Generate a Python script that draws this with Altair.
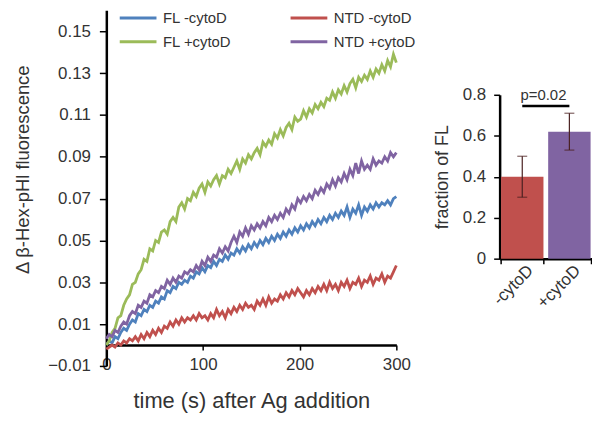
import altair as alt
import pandas as pd

# ---------------- data: line chart ----------------
times = list(range(0, 301, 3))

fl_minus = [0.000, 0.002, 0.001, 0.004, 0.003, 0.006, 0.008, 0.007, 0.010, 0.012,
            0.011, 0.015, 0.014, 0.017, 0.016, 0.019, 0.018, 0.021, 0.020, 0.023,
            0.022, 0.026, 0.025, 0.028, 0.027, 0.030, 0.029, 0.031, 0.030, 0.033,
            0.032, 0.035, 0.034, 0.037, 0.035, 0.038, 0.037, 0.040, 0.038, 0.041,
            0.040, 0.043, 0.041, 0.044, 0.043, 0.046, 0.044, 0.047, 0.045, 0.048,
            0.046, 0.049, 0.047, 0.050, 0.048, 0.051, 0.049, 0.052, 0.050, 0.053,
            0.051, 0.054, 0.052, 0.055, 0.053, 0.056, 0.054, 0.057, 0.055, 0.058,
            0.056, 0.059, 0.057, 0.060, 0.058, 0.061, 0.059, 0.062, 0.060, 0.063,
            0.061, 0.064, 0.062, 0.066, 0.061, 0.065, 0.063, 0.067, 0.062, 0.066,
            0.064, 0.067, 0.065, 0.068, 0.066, 0.068, 0.067, 0.069, 0.067, 0.070,
            0.071]

ntd_minus = [-0.002, -0.001, 0.000, -0.001, 0.001, 0.000, 0.002, 0.001, 0.003, 0.002,
             0.004, 0.002, 0.005, 0.003, 0.006, 0.004, 0.007, 0.005, 0.008, 0.006,
             0.009, 0.008, 0.011, 0.009, 0.012, 0.010, 0.013, 0.011, 0.013, 0.012,
             0.014, 0.012, 0.015, 0.013, 0.014, 0.012, 0.015, 0.013, 0.017, 0.014,
             0.016, 0.013, 0.017, 0.015, 0.018, 0.016, 0.019, 0.017, 0.020, 0.018,
             0.019, 0.017, 0.021, 0.019, 0.022, 0.019, 0.023, 0.020, 0.022, 0.021,
             0.024, 0.022, 0.025, 0.023, 0.026, 0.024, 0.027, 0.025, 0.023, 0.026,
             0.024, 0.027, 0.025, 0.028, 0.026, 0.029, 0.026, 0.030, 0.027, 0.029,
             0.026, 0.030, 0.028, 0.031, 0.027, 0.030, 0.029, 0.032, 0.028, 0.031,
             0.030, 0.033, 0.029, 0.032, 0.031, 0.034, 0.030, 0.033, 0.032, 0.035,
             0.038]

fl_plus = [0.000, 0.002, 0.006, 0.008, 0.013, 0.014, 0.019, 0.022, 0.024, 0.029,
           0.030, 0.034, 0.036, 0.041, 0.040, 0.046, 0.045, 0.050, 0.049, 0.054,
           0.055, 0.053, 0.059, 0.061, 0.059, 0.066, 0.068, 0.065, 0.070, 0.069,
           0.073, 0.071, 0.075, 0.077, 0.073, 0.078, 0.076, 0.079, 0.081, 0.077,
           0.081, 0.080, 0.084, 0.082, 0.085, 0.088, 0.084, 0.089, 0.087, 0.091,
           0.089, 0.092, 0.094, 0.091, 0.097, 0.095, 0.098, 0.096, 0.101, 0.099,
           0.103, 0.100, 0.104, 0.106, 0.103, 0.109, 0.107, 0.108, 0.112, 0.109,
           0.113, 0.111, 0.115, 0.113, 0.116, 0.114, 0.118, 0.117, 0.121, 0.118,
           0.122, 0.120, 0.124, 0.121, 0.125, 0.127, 0.123, 0.128, 0.126, 0.129,
           0.127, 0.131, 0.128, 0.132, 0.130, 0.134, 0.131, 0.136, 0.133, 0.139,
           0.135]

ntd_plus = [0.003, 0.005, 0.004, 0.007, 0.006, 0.009, 0.011, 0.010, 0.014, 0.016,
            0.015, 0.019, 0.018, 0.021, 0.020, 0.024, 0.023, 0.026, 0.025, 0.028,
            0.027, 0.031, 0.029, 0.032, 0.030, 0.033, 0.032, 0.035, 0.034, 0.036,
            0.035, 0.038, 0.036, 0.040, 0.038, 0.042, 0.040, 0.043, 0.042, 0.046,
            0.044, 0.047, 0.045, 0.049, 0.052, 0.049, 0.054, 0.052, 0.056, 0.053,
            0.057, 0.055, 0.058, 0.056, 0.059, 0.057, 0.061, 0.059, 0.062, 0.060,
            0.063, 0.061, 0.065, 0.063, 0.067, 0.065, 0.070, 0.068, 0.071, 0.069,
            0.072, 0.070, 0.074, 0.072, 0.075, 0.073, 0.077, 0.075, 0.079, 0.076,
            0.080, 0.078, 0.082, 0.079, 0.084, 0.081, 0.087, 0.082, 0.088, 0.084,
            0.086, 0.084, 0.089, 0.086, 0.088, 0.087, 0.090, 0.088, 0.092, 0.090,
            0.092]

# legend fills column by column: first column FL, second column NTD
series_names = ["FL -cytoD", "FL +cytoD", "NTD -cytoD", "NTD +cytoD"]
series_colors = ["#4F81BD", "#9BBB59", "#C0504D", "#8064A2"]
series_values = [fl_minus, fl_plus, ntd_minus, ntd_plus]

y_ticks = [-0.01, 0.01, 0.03, 0.05, 0.07, 0.09, 0.11, 0.13, 0.15]
x_ticks = [0, 100, 200, 300]

# ---------------- data: bar chart ----------------
bar_cats = ["-cytoD", "+cytoD"]
bar_vals = [0.40, 0.62]
err_lo = [0.30, 0.53]
err_hi = [0.50, 0.71]
bar_colors = ["#C0504D", "#8064A2"]
bar_ticks = [0, 0.2, 0.4, 0.6, 0.8]
p_label = "p=0.02"
p_level = 0.745

FONT = "Liberation Sans"
TXT = "#333333"

rows = []
for name, vals in zip(series_names, series_values):
    for t, v in zip(times, vals):
        rows.append({"time": t, "value": v, "series": name})
df = pd.DataFrame(rows)

lines = alt.Chart(df).mark_line(strokeWidth=2.8).encode(
    x=alt.X("time:Q",
            scale=alt.Scale(domain=[0, 300], nice=False),
            axis=alt.Axis(values=x_ticks, title="time (s) after Ag addition",
                          offset=-21, tickSize=5, labelPadding=7, labelFlush=False,
                          labelFontSize=17, titleFontSize=22, titlePadding=18)),
    y=alt.Y("value:Q",
            scale=alt.Scale(domain=[-0.01, 0.16], nice=False),
            axis=alt.Axis(values=y_ticks, format=".2f",
                          title="Δ β-Hex-pHl fluorescence",
                          tickSize=7, labelPadding=9,
                          labelFontSize=17, titleFontSize=18.5, titlePadding=15,
                          titleY=160)),
    color=alt.Color("series:N",
                    scale=alt.Scale(domain=series_names, range=series_colors),
                    legend=alt.Legend(title=None, orient="none", legendX=23.5, legendY=-1,
                                      columns=2, gridAlign="each",
                                      symbolType="M-2.643,0H2.643", symbolSize=196,
                                      symbolStrokeWidth=3, labelFontSize=15,
                                      labelFont=FONT, labelColor=TXT, labelOffset=16.5,
                                      columnPadding=52, rowPadding=7, padding=0)),
).properties(width=292, height=358)

bdf = pd.DataFrame({"cond": bar_cats, "val": bar_vals, "lo": err_lo, "hi": err_hi})
pdf = pd.DataFrame({"a": [bar_cats[0]], "b": [bar_cats[1]], "y": [p_level], "label": [p_label]})

band = alt.Scale(domain=bar_cats, paddingInner=0.1, paddingOuter=0.03)

xband = alt.X("cond:N", scale=band,
              axis=alt.Axis(title=None, labelAngle=-45, labelAlign="right",
                            labelBaseline="middle", labelFontSize=17, labelPadding=4,
                            labelOffset=8, tickBand="extent", tickSize=5))

bars = alt.Chart(bdf).mark_bar().encode(
    x=xband,
    y=alt.Y("val:Q", scale=alt.Scale(domain=[0, 0.8], nice=False),
            axis=alt.Axis(values=bar_ticks,
                          labelExpr="datum.value == 0 ? '0' : format(datum.value, '.1f')",
                          title="fraction of FL", tickSize=6, labelPadding=8,
                          labelFontSize=17, titleFontSize=18, titlePadding=11)),
    color=alt.Color("cond:N", scale=alt.Scale(domain=bar_cats, range=bar_colors), legend=None),
)
err = alt.Chart(bdf).mark_rule(color="#4a2020", strokeWidth=1.2).encode(
    x=alt.X("cond:N", scale=band), y="lo:Q", y2="hi:Q")
cap_lo = alt.Chart(bdf).mark_tick(color="#4a2020", thickness=1.2, size=10).encode(
    x=alt.X("cond:N", scale=band), y="lo:Q")
cap_hi = alt.Chart(bdf).mark_tick(color="#4a2020", thickness=1.2, size=10).encode(
    x=alt.X("cond:N", scale=band), y="hi:Q")
pline = alt.Chart(pdf).mark_rule(color="black", strokeWidth=2.5).encode(
    x=alt.X("a:N", scale=band, bandPosition=0.5), x2="b:N", y="y:Q")
ptext = alt.Chart(pdf).mark_text(fontSize=15, font=FONT, color=TXT, baseline="bottom", dy=-3).encode(
    x=alt.X("a:N", scale=band, bandPosition=1.0), y="y:Q", text="label:N")

right = alt.layer(bars, err, cap_lo, cap_hi, pline, ptext).properties(width=93, height=165)

spacer = alt.Chart(pd.DataFrame({"v": [0]})).mark_rule(strokeOpacity=0).encode(
    x=alt.value(0), y=alt.value(10), y2=alt.value(20)).properties(width=93, height=66)

right_col = alt.vconcat(spacer, right, spacing=10)

chart = alt.hconcat(lines, right_col, spacing=17).resolve_scale(
    color="independent").resolve_legend(color="independent").properties(
    padding={"left": 5, "top": 0, "right": 0, "bottom": 0}).configure(
    font=FONT).configure_view(stroke=None).configure_axis(
    labelFont=FONT, titleFont=FONT, labelColor=TXT, titleColor=TXT,
    titleFontWeight="normal", grid=False, domainColor="black", domainWidth=2.5,
    tickColor="black", tickWidth=1.5)

chart.save("out.html", embed_options={"renderer": "svg", "actions": False})
